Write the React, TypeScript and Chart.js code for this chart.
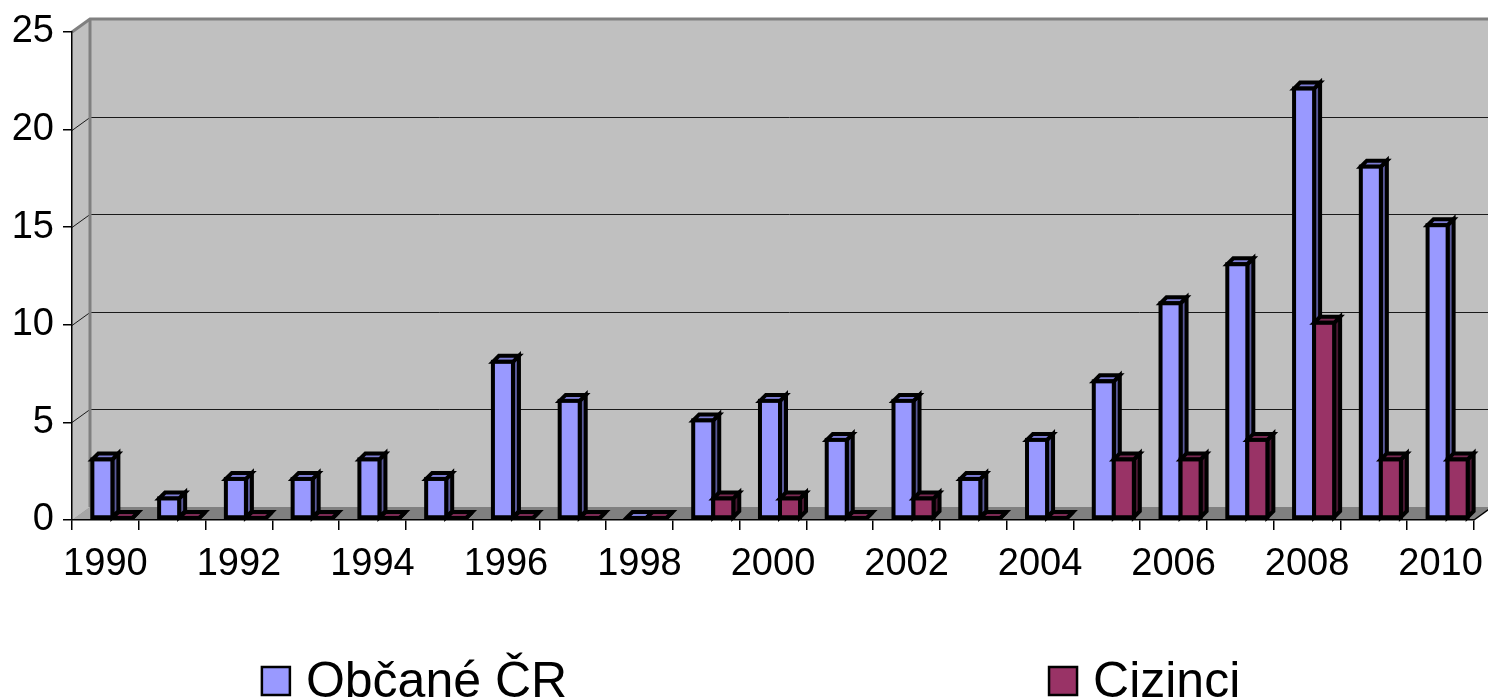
import React, { useEffect, useRef } from "react";
import { Chart, registerables } from "chart.js";

Chart.register(...registerables);

// ---- data ----
const years = [
  "1990", "1991", "1992", "1993", "1994", "1995", "1996", "1997", "1998", "1999", "2000",
  "2001", "2002", "2003", "2004", "2005", "2006", "2007", "2008", "2009", "2010",
];
const obcaneCR = [3, 1, 2, 2, 3, 2, 8, 6, 0, 5, 6, 4, 6, 2, 4, 7, 11, 13, 22, 18, 15];
const cizinci = [0, 0, 0, 0, 0, 0, 0, 0, 0, 1, 1, 0, 1, 0, 0, 3, 3, 4, 10, 3, 3];
const seriesNames = ["Občané ČR", "Cizinci"];
const yMin = 0;
const yMax = 25;
const yStep = 5;

// ---- styles ----
const FONT = "'Liberation Sans', Arial, Helvetica, sans-serif";
const FRONT = ["#9999FF", "#993366"];
const TOP = ["#7c7cd4", "#7a2952"];
const SIDE = ["#5a5a9a", "#4a1832"];
const WALL_DX = 18;
const WALL_DY = 13;
const BAR_DX = 7;
const BAR_DY = 2;
const DEPTH_X = 6;
const DEPTH_Y = 6;

const wallPlugin = {
  id: "wall3d",
  beforeDraw(chart: any) {
    const { ctx, chartArea: a, scales } = chart;
    const y = scales.y;
    ctx.save();
    // back wall
    ctx.fillStyle = "#C0C0C0";
    ctx.fillRect(a.left + WALL_DX, a.top - WALL_DY, a.right - a.left + 40, a.bottom - a.top);
    // left wall
    ctx.beginPath();
    ctx.moveTo(a.left, a.top);
    ctx.lineTo(a.left + WALL_DX, a.top - WALL_DY);
    ctx.lineTo(a.left + WALL_DX, a.bottom - WALL_DY);
    ctx.lineTo(a.left, a.bottom);
    ctx.closePath();
    ctx.fill();
    // floor
    ctx.fillStyle = "#808080";
    ctx.beginPath();
    ctx.moveTo(a.left, a.bottom);
    ctx.lineTo(a.left + WALL_DX, a.bottom - WALL_DY);
    ctx.lineTo(a.right + WALL_DX, a.bottom - WALL_DY);
    ctx.lineTo(a.right, a.bottom);
    ctx.closePath();
    ctx.fill();
    // lighter corner of the floor by the left wall
    ctx.fillStyle = "#A6A6A6";
    ctx.beginPath();
    ctx.moveTo(a.left, a.bottom);
    ctx.lineTo(a.left + WALL_DX, a.bottom - WALL_DY);
    ctx.lineTo(a.left + WALL_DX, a.bottom);
    ctx.closePath();
    ctx.fill();
    // gridlines
    ctx.strokeStyle = "#1a1a1a";
    ctx.lineWidth = 1;
    for (const t of y.ticks) {
      if (t.value <= yMin || t.value >= yMax) continue;
      const py = Math.round(y.getPixelForValue(t.value)) + 0.5;
      ctx.beginPath();
      ctx.moveTo(a.left, py);
      ctx.lineTo(a.left + WALL_DX, py - WALL_DY);
      ctx.lineTo(a.right + WALL_DX + 40, py - WALL_DY);
      ctx.stroke();
    }
    // wall edges
    ctx.strokeStyle = "#808080";
    ctx.lineWidth = 3;
    ctx.beginPath();
    ctx.moveTo(a.left, a.top);
    ctx.lineTo(a.left + WALL_DX, a.top - WALL_DY);
    ctx.lineTo(a.right + WALL_DX + 40, a.top - WALL_DY);
    ctx.moveTo(a.left + WALL_DX, a.top - WALL_DY);
    ctx.lineTo(a.left + WALL_DX, a.bottom - WALL_DY);
    ctx.stroke();
    // floor right edge
    ctx.strokeStyle = "#000";
    ctx.lineWidth = 1.5;
    ctx.beginPath();
    ctx.moveTo(a.right, a.bottom);
    ctx.lineTo(a.right + WALL_DX, a.bottom - WALL_DY);
    ctx.stroke();
    ctx.restore();
  },
  beforeDatasetsDraw(chart: any) {
    const { ctx } = chart;
    const metas = [chart.getDatasetMeta(0), chart.getDatasetMeta(1)];
    ctx.save();
    ctx.lineWidth = 4;
    ctx.lineJoin = "miter";
    ctx.strokeStyle = "#000";
    const n = metas[0].data.length;
    for (let i = 0; i < n; i++) {
      for (let d = 0; d < metas.length; d++) {
        const el = metas[d].data[i];
        const { x, y, base, width } = el.getProps(["x", "y", "base", "width"], true);
        const l = x - width / 2 + BAR_DX;
        const r = x + width / 2 + BAR_DX;
        const t = y - BAR_DY;
        const b = base - BAR_DY;
        // side
        ctx.fillStyle = SIDE[d];
        ctx.beginPath();
        ctx.moveTo(r, t);
        ctx.lineTo(r + DEPTH_X, t - DEPTH_Y);
        ctx.lineTo(r + DEPTH_X, b - DEPTH_Y);
        ctx.lineTo(r, b);
        ctx.closePath();
        ctx.fill();
        ctx.stroke();
        // top
        ctx.fillStyle = TOP[d];
        ctx.beginPath();
        ctx.moveTo(l, t);
        ctx.lineTo(l + DEPTH_X, t - DEPTH_Y);
        ctx.lineTo(r + DEPTH_X, t - DEPTH_Y);
        ctx.lineTo(r, t);
        ctx.closePath();
        ctx.fill();
        ctx.stroke();
        // front
        if (b - t > 0.5) {
          ctx.fillStyle = FRONT[d];
          ctx.fillRect(l, t, r - l, b - t);
          ctx.strokeRect(l, t, r - l, b - t);
        }
      }
    }
    ctx.restore();
    return false;
  },
  afterDraw(chart: any) {
    const { ctx, width } = chart;
    const items = [
      { label: seriesNames[0], color: FRONT[0], boxX: width * 0.176 },
      { label: seriesNames[1], color: FRONT[1], boxX: width * 0.705 },
    ];
    ctx.save();
    ctx.font = `50px ${FONT}`;
    ctx.textBaseline = "alphabetic";
    for (const it of items) {
      ctx.fillStyle = it.color;
      ctx.fillRect(it.boxX, 667, 28, 28);
      ctx.strokeStyle = "#000";
      ctx.lineWidth = 2.5;
      ctx.strokeRect(it.boxX, 667, 28, 28);
      ctx.fillStyle = "#000";
      ctx.fillText(it.label, it.boxX + 44, 697);
    }
    ctx.restore();
  },
};

export default function App() {
  const ref = useRef<HTMLCanvasElement | null>(null);
  useEffect(() => {
    if (!ref.current) return;
    const chart = new Chart(ref.current, {
      type: "bar",
      data: {
        labels: years,
        datasets: [
          { label: seriesNames[0], data: obcaneCR, backgroundColor: FRONT[0] },
          { label: seriesNames[1], data: cizinci, backgroundColor: FRONT[1] },
        ],
      },
      options: {
        animation: false,
        responsive: false,
        devicePixelRatio: 1,
        layout: { padding: { top: 32, right: 14, left: 0, bottom: 0 } },
        datasets: { bar: { categoryPercentage: 0.6, barPercentage: 1.0 } },
        plugins: { legend: { display: false }, tooltip: { enabled: false } },
        scales: {
          x: {
            offset: true,
            grid: {
              display: true,
              offset: true,
              drawOnChartArea: false,
              drawTicks: true,
              tickLength: 10,
              color: "#000",
              lineWidth: 1.5,
            },
            border: { display: true, color: "#000", width: 1.5 },
            ticks: {
              autoSkip: false,
              maxRotation: 0,
              minRotation: 0,
              padding: 12,
              color: "#000",
              font: { family: FONT, size: 38 },
              callback: (_v: any, i: number) => (i % 2 === 0 ? years[i] : ""),
            },
            afterFit: (s: any) => {
              s.height = 180;
              s.paddingLeft = 0;
              s.paddingRight = 0;
            },
          },
          y: {
            min: yMin,
            max: yMax,
            grid: {
              display: true,
              drawOnChartArea: false,
              drawTicks: true,
              tickLength: 9,
              color: "#000",
              lineWidth: 1.5,
            },
            border: { display: true, color: "#000", width: 1.5 },
            ticks: {
              stepSize: yStep,
              padding: 9,
              color: "#000",
              font: { family: FONT, size: 38 },
            },
            afterFit: (s: any) => {
              s.width = 72;
            },
          },
        },
      },
      plugins: [wallPlugin],
    } as any);
    return () => chart.destroy();
  }, []);
  return (
    <div style={{ position: "absolute", left: 0, top: 0, width: 1488, height: 700, background: "#fff" }}>
      <canvas ref={ref} width={1488} height={700} style={{ display: "block" }} />
    </div>
  );
}
